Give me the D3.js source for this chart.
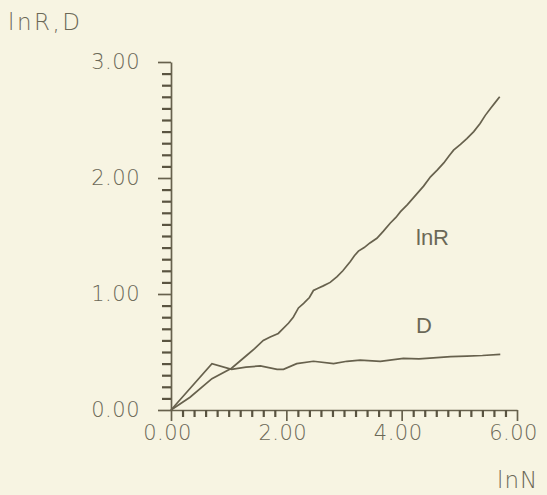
<!DOCTYPE html>
<html>
<head>
<meta charset="utf-8">
<script src="https://cdn.jsdelivr.net/npm/d3@7"></script>
<style>
  html, body { margin: 0; padding: 0; background: #f7f4e2; }
  svg { display: block; }
  .lbl { font-family: "DejaVu Sans", sans-serif; font-weight: 200; fill: #6b6857; }
  .inl { font-family: "Liberation Sans", Arial, sans-serif; fill: #6b6857; }
</style>
</head>
<body>
<div id="chart"></div>
<script>
// ----- data ----- //
var lnN_R = [0, 0.33, 0.71, 1.05, 1.31, 1.45, 1.60, 1.72, 1.86, 2.04, 2.12, 2.21, 2.30, 2.40, 2.47, 2.55,
             2.64, 2.76, 2.88, 2.98, 3.11, 3.18, 3.25, 3.35, 3.45, 3.57, 3.68, 3.80, 3.90, 3.98, 4.10,
             4.24, 4.38, 4.50, 4.62, 4.73, 4.82, 4.90, 5.02, 5.13, 5.25, 5.36, 5.45, 5.54, 5.62, 5.70]
var lnR   = [0, 0.11, 0.27, 0.36, 0.47, 0.53, 0.60, 0.63, 0.66, 0.75, 0.80, 0.88, 0.92, 0.97, 1.03, 1.05,
             1.07, 1.10, 1.15, 1.20, 1.28, 1.33, 1.37, 1.40, 1.44, 1.48, 1.54, 1.61, 1.66, 1.71, 1.77,
             1.85, 1.93, 2.01, 2.07, 2.13, 2.19, 2.24, 2.29, 2.34, 2.40, 2.47, 2.54, 2.60, 2.65, 2.70]

var lnN_D = [0, 0.71, 1.05, 1.30, 1.55, 1.84, 1.95, 2.18, 2.47, 2.82, 3.05, 3.28, 3.63, 4.03, 4.30, 4.55, 4.85, 5.13, 5.40, 5.71]
var D     = [0, 0.40, 0.35, 0.37, 0.38, 0.35, 0.35, 0.40, 0.42, 0.40, 0.42, 0.43, 0.42, 0.445, 0.44, 0.45, 0.46, 0.465, 0.47, 0.48]

var xMajor = [0, 2, 4, 6]
var yMajor = [0, 1, 2, 3]
var xMinorTicks = [0.2, 0.4, 0.6, 0.8, 1.0, 1.2, 1.4, 1.6, 1.8, 2.2, 2.4, 2.6, 2.8, 3.0, 3.2, 3.4, 3.6, 3.8,
                   4.2, 4.4, 4.6, 4.8, 5.0, 5.2, 5.4, 5.6, 5.8]
var yMinorTicks = [0.1, 0.2, 0.3, 0.4, 0.5, 0.6, 0.7, 0.8, 0.9, 1.1, 1.2, 1.3, 1.4, 1.5, 1.6, 1.7, 1.8, 1.9,
                   2.1, 2.2, 2.3, 2.4, 2.5, 2.6, 2.7, 2.8, 2.9]

var ink = "#67614d"
var tickInk = "#5a5441"

var svg = d3.select("#chart")
    .append("svg")
    .attr("width", 547)
    .attr("height", 495)

var x = d3.scaleLinear().domain([0, 6]).range([171, 517])
var y = d3.scaleLinear().domain([0, 3]).range([410, 62])

// ----- major ticks + labels ----- //
var fmt = d3.format(".2f")

var xMaj = svg.append("g")
    .attr("transform", "translate(0,410)")
    .call(d3.axisBottom(x).tickValues(xMajor).tickSize(11).tickSizeOuter(0).tickPadding(4).tickFormat(fmt))

var yMaj = svg.append("g")
    .attr("transform", "translate(171,0)")
    .call(d3.axisLeft(y).tickValues(yMajor).tickSize(13).tickSizeOuter(0).tickPadding(18).tickFormat(fmt))

svg.selectAll(".domain, .tick line")
    .attr("stroke", ink)
    .attr("stroke-width", 1.7)

svg.selectAll(".tick text")
    .attr("class", "lbl")
    .style("font-size", "21px")
    .style("letter-spacing", "0.5px")
    .attr("fill", "#6b6857")

xMaj.selectAll(".tick text").attr("dx", -4)

// ----- minor ticks, same axis generator, no labels ----- //
var xMin = svg.append("g")
    .attr("transform", "translate(0,410)")
    .call(d3.axisBottom(x).tickValues(xMinorTicks).tickSize(7).tickSizeOuter(0).tickFormat(function () { return "" }))

var yMin = svg.append("g")
    .attr("transform", "translate(171,0)")
    .call(d3.axisLeft(y).tickValues(yMinorTicks).tickSize(9).tickSizeOuter(0).tickFormat(function () { return "" }))

xMin.selectAll(".tick line").attr("stroke", tickInk).attr("stroke-width", 2.2)
yMin.selectAll(".tick line").attr("stroke", tickInk).attr("stroke-width", 2.2)
xMin.select(".domain").remove()
yMin.select(".domain").remove()

// ----- axis titles ----- //
svg.append("text")
    .attr("class", "lbl")
    .attr("x", 8)
    .attr("y", 30)
    .style("font-size", "23px")
    .style("letter-spacing", "2.5px")
    .text("lnR,D")

svg.append("text")
    .attr("class", "lbl")
    .attr("x", 497)
    .attr("y", 488)
    .style("font-size", "23px")
    .style("letter-spacing", "1px")
    .text("lnN")

// ----- lines ----- //
var line = d3.line()
    .x(function (d) { return x(d[0]) })
    .y(function (d) { return y(d[1]) })

svg.append("path")
    .datum(lnN_R.map(function (v, i) { return [v, lnR[i]] }))
    .attr("fill", "none")
    .attr("stroke", ink)
    .attr("stroke-width", 1.7)
    .attr("d", line)

svg.append("path")
    .datum(lnN_D.map(function (v, i) { return [v, D[i]] }))
    .attr("fill", "none")
    .attr("stroke", ink)
    .attr("stroke-width", 1.7)
    .attr("d", line)

// ----- curve labels ----- //
svg.append("text")
    .attr("class", "inl")
    .attr("x", 416)
    .attr("y", 245)
    .style("font-size", "22px")
    .text("lnR")

svg.append("text")
    .attr("class", "inl")
    .attr("x", 416)
    .attr("y", 333)
    .style("font-size", "22px")
    .text("D")
</script>
</body>
</html>
